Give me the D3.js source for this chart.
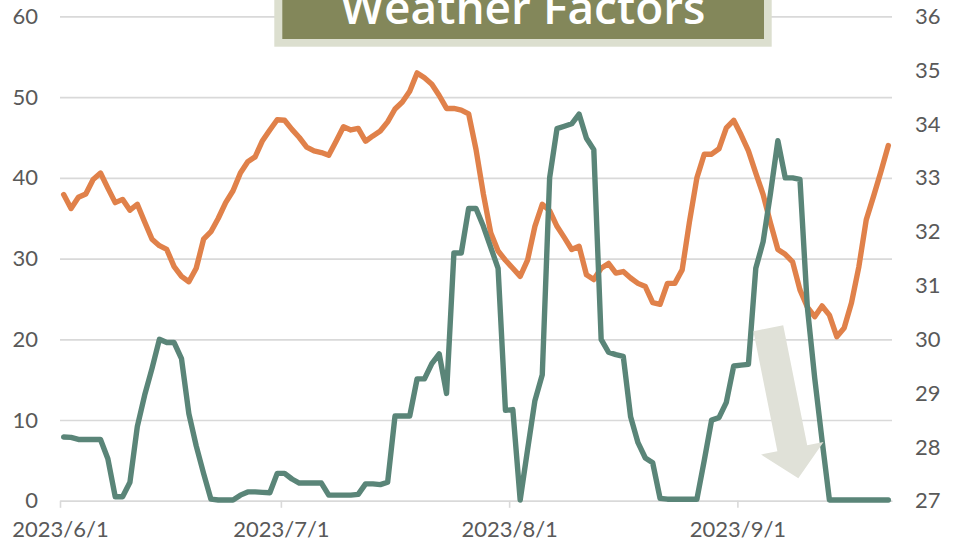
<!DOCTYPE html>
<html>
<head>
<meta charset="utf-8">
<script src="https://cdn.jsdelivr.net/npm/d3@7/dist/d3.min.js"></script>
<style>
  html, body { margin: 0; padding: 0; background: #ffffff; }
  svg { display: block; }
</style>
</head>
<body>
<svg id="chart" width="953" height="545"></svg>
<script>
// Daily observations, 2023-06-01 through 2023-09-21
const firstDay = "2023-06-01";
const lastDay = "2023-09-21";

// Left axis series (0–60)
const rainfall = [
  7.9, 7.85, 7.6, 7.6, 7.6, 7.6, 5.2, 0.5, 0.5, 2.3,
  9.2, 13.1, 16.4, 20.0, 19.6, 19.6, 17.6, 10.8, 6.8, 3.4,
  0.2, 0.1, 0.1, 0.1, 0.7, 1.1, 1.1, 1.05, 1.0, 3.4,
  3.4, 2.7, 2.2, 2.2, 2.2, 2.2, 0.7, 0.7, 0.7, 0.7,
  0.8, 2.1, 2.1, 2.0, 2.3, 10.5, 10.5, 10.5, 15.1, 15.1,
  17.0, 18.2, 13.3, 30.7, 30.7, 36.2, 36.2, 34.0, 31.4, 28.8,
  11.2, 11.3, 0.1, 6.3, 12.4, 15.6, 40.0, 46.1, 46.4, 46.7,
  47.9, 44.9, 43.5, 20.0, 18.4, 18.1, 17.9, 10.4, 7.2, 5.3,
  4.7, 0.3, 0.2, 0.2, 0.2, 0.2, 0.2, 5.0, 10.0, 10.3,
  12.2, 16.7, 16.8, 16.9, 28.8, 32.1, 38.1, 44.6, 40.0, 40.0,
  39.8, 24.0, 15.2, 7.5, 0.1, 0.1, 0.1, 0.1, 0.1, 0.1,
  0.1, 0.1, 0.1
];

// Right axis series (27–36)
const temperature = [
  32.69, 32.43, 32.64, 32.70, 32.97, 33.09, 32.81, 32.54, 32.60, 32.40,
  32.51, 32.18, 31.86, 31.74, 31.67, 31.35, 31.17, 31.07, 31.32, 31.86,
  32.00, 32.25, 32.54, 32.76, 33.09, 33.30, 33.39, 33.69, 33.89, 34.08,
  34.07, 33.90, 33.75, 33.57, 33.50, 33.47, 33.42, 33.68, 33.95, 33.89,
  33.92, 33.68, 33.78, 33.87, 34.04, 34.28, 34.41, 34.61, 34.95, 34.86,
  34.74, 34.53, 34.29, 34.29, 34.26, 34.19, 33.53, 32.70, 31.98, 31.64,
  31.47, 31.32, 31.17, 31.47, 32.10, 32.51, 32.39, 32.10, 31.89, 31.67,
  31.73, 31.20, 31.11, 31.32, 31.41, 31.23, 31.26, 31.14, 31.04, 30.98,
  30.68, 30.65, 31.04, 31.04, 31.29, 32.19, 33.00, 33.44, 33.44, 33.54,
  33.93, 34.07, 33.80, 33.50, 33.09, 32.69, 32.16, 31.67, 31.58, 31.44,
  30.92, 30.60, 30.42, 30.62, 30.45, 30.05, 30.21, 30.68, 31.35, 32.22,
  32.66, 33.12, 33.60
];

const monthTicks = ["2023/6/1", "2023/7/1", "2023/8/1", "2023/9/1"];
const leftTicks = [0, 10, 20, 30, 40, 50, 60];
const rightTicks = [27, 28, 29, 30, 31, 32, 33, 34, 35, 36];
const title = "Weather Factors";

const parseSlash = d3.utcParse("%Y/%m/%d");
const parseDash = d3.utcParse("%Y-%m-%d");
const start = parseDash(firstDay);
const end = d3.utcDay.offset(parseDash(lastDay), 1);
const days = d3.utcDay.range(start, end);
const tickDates = monthTicks.map(parseSlash);

const plot = { left: 60, right: 892, top: 16.4, bottom: 500.8 };
const textColor = "#595959";
const gridColor = "#d9d9d9";
const font = "Lato, 'Open Sans', sans-serif";

const svg = d3.select("#chart");

const x = d3.scaleUtc().domain([start, end]).range([plot.left, plot.right]);
const yLeft = d3.scaleLinear().domain([0, 60]).range([plot.bottom, plot.top]);
const yRight = d3.scaleLinear().domain([27, 36]).range([plot.bottom, plot.top]);
// each day's value sits in the middle of its day slot
const xMid = d => x(d3.utcHour.offset(d, 12));

// horizontal gridlines
const grid = svg.append("g")
  .attr("transform", `translate(${plot.left},0)`)
  .call(d3.axisLeft(yLeft).tickValues(leftTicks).tickSize(-(plot.right - plot.left)).tickFormat(""));
grid.select(".domain").remove();
grid.selectAll("line").attr("stroke", gridColor).attr("stroke-width", 1.6);

// left value labels
const axL = svg.append("g")
  .attr("transform", `translate(${plot.left},0)`)
  .call(d3.axisLeft(yLeft).tickValues(leftTicks).tickSize(0).tickPadding(22).tickFormat(d3.format("d")));
axL.select(".domain").remove();

// right value labels
const axR = svg.append("g")
  .attr("transform", `translate(${plot.right},0)`)
  .call(d3.axisRight(yRight).tickValues(rightTicks).tickSize(0).tickPadding(23).tickFormat(d3.format("d")));
axR.select(".domain").remove();

// date axis
const fmtDate = d => `${d.getUTCFullYear()}/${d.getUTCMonth() + 1}/${d.getUTCDate()}`;
const axB = svg.append("g")
  .attr("transform", `translate(0,${plot.bottom})`)
  .call(d3.axisBottom(x).tickValues(tickDates).tickSize(7).tickSizeOuter(0).tickPadding(14).tickFormat(fmtDate));
axB.select(".domain").attr("stroke", gridColor).attr("stroke-width", 1.6);
axB.selectAll(".tick line").attr("stroke", gridColor).attr("stroke-width", 1.6);

svg.selectAll(".tick text")
  .attr("fill", textColor)
  .style("font-family", font)
  .style("font-size", "22px");

// series lines
const lineRain = d3.line().x((d, i) => xMid(days[i])).y(d => yLeft(d));
const lineTemp = d3.line().x((d, i) => xMid(days[i])).y(d => yRight(d));

svg.append("path")
  .datum(temperature)
  .attr("d", lineTemp)
  .attr("fill", "none")
  .attr("stroke", "#e0814a")
  .attr("stroke-width", 5.4)
  .attr("stroke-linejoin", "round")
  .attr("stroke-linecap", "round");

svg.append("path")
  .datum(rainfall)
  .attr("d", lineRain)
  .attr("fill", "none")
  .attr("stroke", "#5a8578")
  .attr("stroke-width", 5.4)
  .attr("stroke-linejoin", "round")
  .attr("stroke-linecap", "round");

// downward trend arrow
(function drawArrow() {
  const tail = [768.3, 328.2], tip = [798.3, 478.3];
  const shaftW = 30.4, headW = 63.7, headL = 30.6;
  const dx = tip[0] - tail[0], dy = tip[1] - tail[1];
  const len = Math.hypot(dx, dy);
  const ux = dx / len, uy = dy / len, px = -uy, py = ux;
  const at = (s, w) => [tail[0] + ux * s + px * w, tail[1] + uy * s + py * w];
  const neck = len - headL;
  const pts = [
    at(0, -shaftW / 2), at(neck, -shaftW / 2), at(neck, -headW / 2),
    at(len, 0),
    at(neck, headW / 2), at(neck, shaftW / 2), at(0, shaftW / 2)
  ];
  svg.append("path")
    .attr("d", "M" + pts.map(p => p.join(",")).join("L") + "Z")
    .attr("fill", "#e0e1d8");
})();

// title banner
const banner = svg.append("g");
banner.append("rect")
  .attr("x", 274.3).attr("y", -20).attr("width", 497.4).attr("height", 66.7)
  .attr("fill", "#dcdfcf");
banner.append("rect")
  .attr("x", 282.3).attr("y", -20).attr("width", 481.7).attr("height", 59)
  .attr("fill", "#83875a");
banner.append("text")
  .attr("x", 523).attr("y", 23.5)
  .attr("text-anchor", "middle")
  .attr("fill", "#ffffff")
  .style("font-family", "'Open Sans', sans-serif")
  .style("font-size", "46px")
  .style("font-weight", 600)
  .text(title);
</script>
</body>
</html>
